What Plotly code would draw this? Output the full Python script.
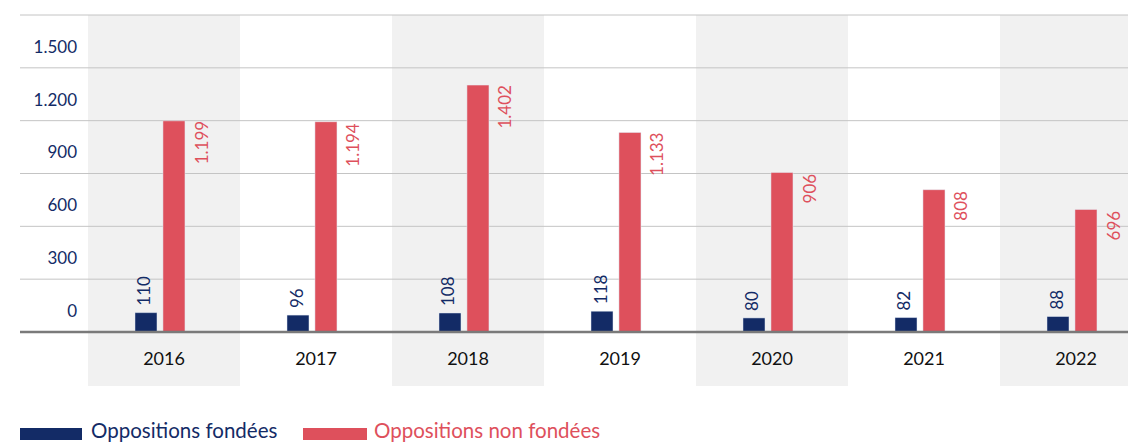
import plotly.graph_objects as go

years = ["2016", "2017", "2018", "2019", "2020", "2021", "2022"]
fondees = [110, 96, 108, 118, 80, 82, 88]
non_fondees = [1199, 1194, 1402, 1133, 906, 808, 696]
y_ticks = [0, 300, 600, 900, 1200, 1500, 1800]
y_ticktext = ["0", "300", "600", "900", "1.200", "1.500", ""]
series_names = ["Oppositions fondées", "Oppositions non fondées"]

NAVY = "#132b66"
RED = "#de505c"
FONT = "Lato"

W, H = 1128, 444
ML, MR, MT, MB = 88, 0, 15, 112
PW = W - ML - MR
PH = H - MT - MB
XR = [-0.5, 6.342]
YMAX = 1800


def fmt(v):
    return f"{v:,}".replace(",", ".")


def px_x(px):
    return (px - ML) / PW


def px_y(py):
    return (H - MB - py) / PH


fig = go.Figure()
fig.add_trace(go.Bar(
    x=years, y=fondees, name=series_names[0], marker_color=NAVY,
    width=0.145, offset=-0.191, cliponaxis=False,
))
fig.add_trace(go.Bar(
    x=years, y=non_fondees, name=series_names[1], marker_color=RED,
    width=0.145, offset=-0.007, cliponaxis=False,
))

shapes = []
ncat = XR[1] - XR[0]
for i in range(0, len(years), 2):
    x0 = (i - 0.5 - XR[0]) / ncat
    x1 = min(1.0, (i + 0.5 - XR[0]) / ncat)
    shapes.append(dict(type="rect", xref="paper", yref="paper", x0=x0, x1=x1,
                       y0=px_y(386), y1=1, fillcolor="#f1f1f1", line_width=0, layer="below"))
for v in y_ticks[1:]:
    shapes.append(dict(type="line", xref="paper", yref="paper", x0=px_x(20), x1=1,
                       y0=v / YMAX, y1=v / YMAX, line=dict(color="#c4c4c4", width=1), layer="below"))
shapes.append(dict(type="line", xref="paper", yref="paper", x0=px_x(20), x1=1,
                   y0=0, y1=0, line=dict(color="#7a7a7a", width=2.5), layer="above"))
shapes.append(dict(type="rect", xref="paper", yref="paper", x0=px_x(20), x1=px_x(82),
                   y0=px_y(440), y1=px_y(428), fillcolor=NAVY, line_width=0))
shapes.append(dict(type="rect", xref="paper", yref="paper", x0=px_x(303), x1=px_x(367),
                   y0=px_y(440), y1=px_y(428), fillcolor=RED, line_width=0))

annotations = []
for i, v in enumerate(fondees):
    annotations.append(dict(x=i, y=v, xref="x", yref="y", text=fmt(v), showarrow=False,
                            textangle=-90, xanchor="center", yanchor="bottom", xshift=-20, yshift=5,
                            font=dict(color=NAVY, size=17, family=FONT)))
for i, v in enumerate(non_fondees):
    annotations.append(dict(x=i, y=v, xref="x", yref="y", text=fmt(v), showarrow=False,
                            textangle=-90, xanchor="center", yanchor="top", xshift=37, yshift=1,
                            font=dict(color=RED, size=17, family=FONT)))
annotations.append(dict(x=px_x(90), y=px_y(430), xref="paper", yref="paper", text=series_names[0],
                        showarrow=False, xanchor="left", yanchor="middle", borderpad=0,
                        font=dict(color=NAVY, size=20.5, family=FONT)))
annotations.append(dict(x=px_x(373), y=px_y(430), xref="paper", yref="paper", text=series_names[1],
                        showarrow=False, xanchor="left", yanchor="middle", borderpad=0,
                        font=dict(color=RED, size=20.5, family=FONT)))

fig.update_layout(
    width=W, height=H,
    margin=dict(l=ML, r=MR, t=MT, b=MB),
    plot_bgcolor="rgba(0,0,0,0)", paper_bgcolor="white",
    showlegend=False, barmode="overlay",
    shapes=shapes, annotations=annotations,
    font=dict(family=FONT),
    xaxis=dict(type="category", range=XR, showgrid=False, zeroline=False, showline=False,
               tickfont=dict(size=18, color="#111111", family=FONT), ticks="",
               ticklabelstandoff=14),
    yaxis=dict(range=[0, YMAX], tickvals=y_ticks, ticktext=y_ticktext, showgrid=False,
               zeroline=False, showline=False, ticks="",
               tickfont=dict(size=17, color=NAVY, family=FONT),
               ticklabelshift=-21, ticklabelstandoff=10),
)

fig.write_html("out.html", config={"displayModeBar": False},
               post_script="document.body.style.margin='0';document.body.style.overflow='hidden';")
